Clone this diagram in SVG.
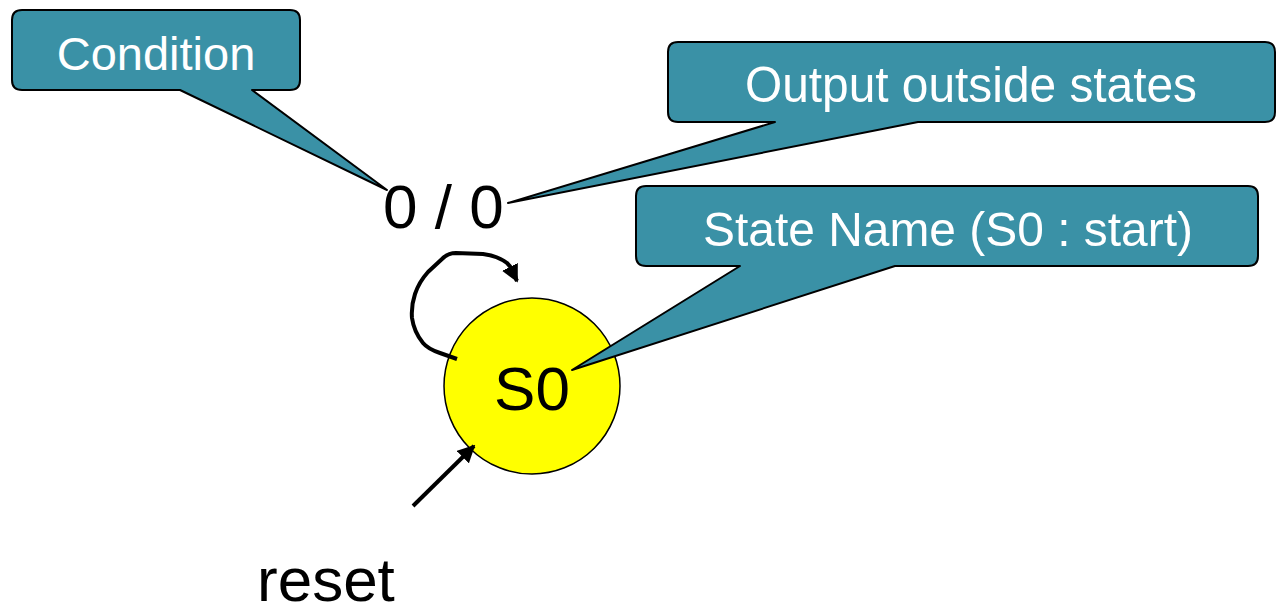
<svg xmlns="http://www.w3.org/2000/svg" width="1276" height="613" viewBox="0 0 1276 613">
  <defs>
    <style>
      .callout { fill: #3A91A6; stroke: #000; stroke-width: 2; stroke-linejoin: round; }
      .callout-text { fill: #fff; font-family: "Liberation Sans", Arial, sans-serif; text-anchor: middle; }
      .label { fill: #000; font-family: "Liberation Sans", Arial, sans-serif; font-size: 62px; }
      .wire { fill: none; stroke: #000; stroke-width: 4; stroke-linecap: butt; stroke-linejoin: round; }
    </style>
    <marker id="arrow" viewBox="0 0 10 10" refX="9" refY="5" markerWidth="4.4" markerHeight="4.4" markerUnits="strokeWidth" orient="auto">
      <path d="M0,0 L10,5 L0,10 Z" fill="#000"/>
    </marker>
  </defs>

  <rect width="1276" height="613" fill="#fff"/>

  <!-- state S0 -->
  <g id="state-s0">
    <circle cx="532" cy="386" r="88" fill="#FFFF00" stroke="#000" stroke-width="1.5"/>
    <text class="label" x="532" y="410" text-anchor="middle">S0</text>
  </g>

  <!-- transition label -->
  <g id="transition-label">
    <text class="label" x="383" y="228">0 / 0</text>
  </g>

  <!-- reset label -->
  <g id="reset-label">
    <text class="label" x="257" y="601" font-size="61">reset</text>
  </g>

  <!-- connectors -->
  <g id="connectors">
    <!-- self loop on S0 -->
    <path class="wire" marker-end="url(#arrow)"
          d="M457,359 L440,353 Q428,349 423,343 Q414,332 412,318 Q411,306 415,294 Q419,282 428,272 L442,259 Q448,253 456,253 L483,254 Q498,256 507,263 Q514,270 516,279 L517,281"/>
    <!-- reset arrow -->
    <path class="wire" marker-end="url(#arrow)" stroke-width="4.5" d="M413,506 L474,446"/>
  </g>

  <!-- callout: condition -->
  <g id="callout-condition">
    <path class="callout" d="M22,10 H290 Q300,10 300,20 V80 Q300,90 290,90 H252 L387,190 L180,90 H22 Q12,90 12,80 V20 Q12,10 22,10 Z"/>
    <text class="callout-text" x="156" y="70" font-size="47">Condition</text>
  </g>

  <!-- callout: output -->
  <g id="callout-output">
    <path class="callout" d="M678,42 H1265 Q1275,42 1275,52 V112 Q1275,122 1265,122 H918 L508,203 L775,122 H678 Q668,122 668,112 V52 Q668,42 678,42 Z"/>
    <text class="callout-text" x="971" y="102" font-size="50" textLength="452" lengthAdjust="spacingAndGlyphs">Output outside states</text>
  </g>

  <!-- callout: state name -->
  <g id="callout-state">
    <path class="callout" d="M646,186 H1248 Q1258,186 1258,196 V256 Q1258,266 1248,266 H895 L572,370 L740,266 H646 Q636,266 636,256 V196 Q636,186 646,186 Z"/>
    <text class="callout-text" x="948" y="246" font-size="49" textLength="490" lengthAdjust="spacingAndGlyphs">State Name (S0 : start)</text>
  </g>
</svg>
